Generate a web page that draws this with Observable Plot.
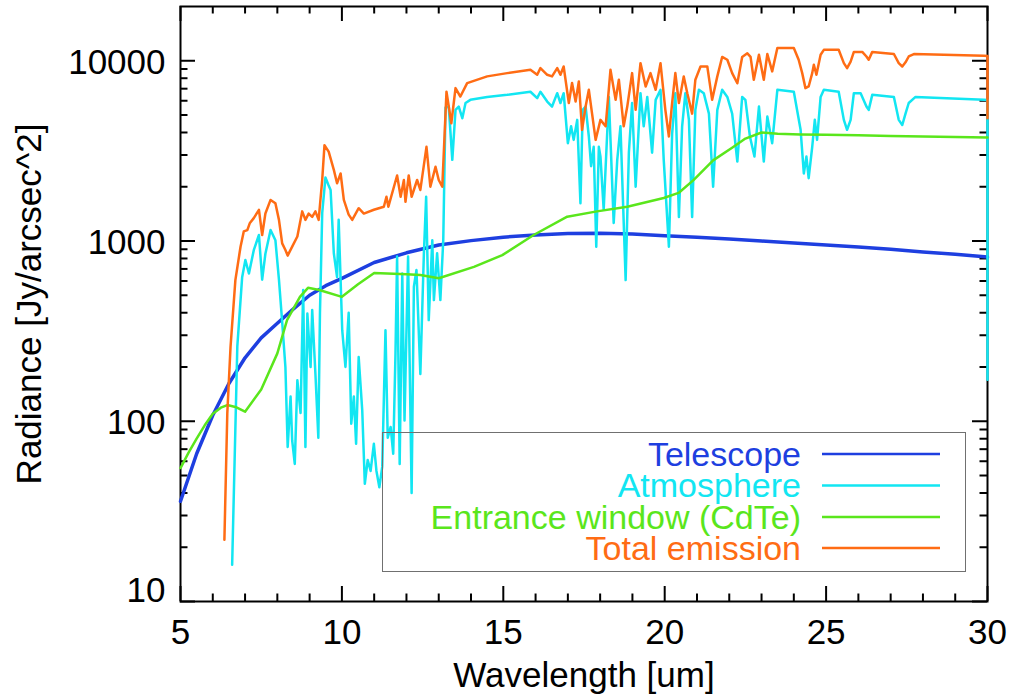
<!DOCTYPE html>
<html>
<head>
<meta charset="utf-8">
<script src="https://cdn.jsdelivr.net/npm/d3@7"></script>
<script src="https://cdn.jsdelivr.net/npm/@observablehq/plot@0.6"></script>
<style>
  body { margin: 0; background: #fff; }
  #chart { width: 1009px; height: 698px; }
</style>
</head>
<body>
<div id="chart"></div>
<script>
// ---------- data (wavelength [um], radiance [Jy/arcsec^2]) ----------
const seriesNames = ["Telescope", "Atmosphere", "Entrance window (CdTe)", "Total emission"];
const seriesColors = ["#1e3fe0", "#12e6f2", "#5ae61c", "#ff6c14"];

const telescope = [[5,36],[5.5,66],[6,108],[6.5,162],[7,225],[7.5,290],[8,350],[8.5,420],[9,500],[9.5,565],[10,620],[11,760],[12,860],[13,950],[14,1005],[15,1050],[16,1080],[17,1100],[18,1105],[19,1095],[20,1070],[21,1050],[22,1025],[23,1000],[24,975],[25,950],[26,925],[27,900],[28,870],[29,845],[30,815]];

const atmosphere = [[6.60,16],[6.76,260],[6.91,630],[7.01,785],[7.12,660],[7.27,890],[7.43,1080],[7.53,610],[7.63,850],[7.79,1150],[7.94,1010],[8.05,610],[8.15,355],[8.25,200],[8.32,72],[8.41,137],[8.46,78],[8.54,58],[8.62,169],[8.72,111],[8.80,534],[8.87,72],[8.93,396],[9.03,200],[9.08,414],[9.18,183],[9.27,81],[9.32,396],[9.39,1430],[9.49,2250],[9.58,2050],[9.65,1920],[9.75,855],[9.85,630],[9.90,1310],[10.01,320],[10.11,200],[10.21,400],[10.29,97],[10.37,137],[10.44,75],[10.52,227],[10.63,115],[10.71,45],[10.80,61],[10.89,53],[10.99,75],[11.07,53],[11.16,43],[11.25,56],[11.35,320],[11.42,81],[11.51,93],[11.59,66],[11.66,238],[11.71,820],[11.79,58],[11.87,660],[11.94,101],[12.05,820],[12.16,40],[12.23,557],[12.31,690],[12.43,183],[12.54,855],[12.61,1760],[12.69,364],[12.80,1010],[12.85,470],[12.95,855],[13.05,470],[13.14,1010],[13.21,5500],[13.31,5570],[13.42,2820],[13.52,5340],[13.62,5570],[13.73,4800],[13.83,5830],[13.98,6070],[14.50,6300],[15.12,6470],[15.84,6730],[16.05,6200],[16.15,6730],[16.36,5940],[16.51,5570],[16.67,6610],[16.77,5830],[16.87,6610],[17.00,3490],[17.10,4330],[17.18,3640],[17.29,4700],[17.39,1620],[17.46,5340],[17.55,5570],[17.65,3800],[17.72,2600],[17.80,3330],[17.88,930],[17.96,3330],[18.01,2940],[18.11,1490],[18.27,6300],[18.42,1260],[18.53,2820],[18.63,4330],[18.79,607],[18.89,3090],[18.99,5830],[19.10,2000],[19.25,6610],[19.35,4330],[19.46,6300],[19.61,3090],[19.72,6070],[19.87,6900],[19.97,2820],[20.13,930],[20.23,3930],[20.33,6610],[20.44,1360],[20.54,4330],[20.64,6610],[20.75,4700],[20.85,1360],[20.95,5340],[21.06,6900],[21.21,6610],[21.37,5090],[21.50,2000],[21.63,5340],[21.78,6900],[21.94,6300],[22.09,5090],[22.25,2760],[22.40,6300],[22.50,6070],[22.64,3800],[22.78,2940],[22.92,5570],[23.07,2760],[23.18,4900],[23.33,3490],[23.49,6900],[24.00,6730],[24.21,4140],[24.31,2370],[24.39,2940],[24.46,2230],[24.57,3330],[24.65,4700],[24.72,3640],[24.83,6300],[24.93,6900],[25.39,6730],[25.55,4700],[25.65,4140],[25.76,4700],[25.86,6610],[26.07,6610],[26.25,5570],[26.32,5340],[26.43,6470],[27.10,6300],[27.25,4700],[27.36,4400],[27.46,5090],[27.56,5830],[27.77,6300],[29.89,6070],[30,6050],[30,170]];

const entranceWindow = [[5,55],[5.25,67],[5.5,80],[5.75,95],[6,110],[6.25,119],[6.45,123],[6.7,120],[7.0,113],[7.5,150],[8.0,238],[8.3,364],[8.7,490],[8.95,550],[9.3,535],[10,490],[10.5,575],[11,665],[12,655],[12.43,647],[13,621],[14.09,719],[14.97,835],[15.94,1080],[16.98,1365],[17.9,1460],[18.84,1550],[19.97,1733],[20.43,1848],[20.9,2184],[21.5,2800],[22.1,3300],[22.5,3700],[23,4000],[23.5,3940],[24.2,3900],[25,3880],[26,3860],[27,3830],[28,3800],[29,3780],[30,3750]];

const totalEmission = [[6.36,22],[6.45,111],[6.55,259],[6.70,607],[6.86,930],[6.96,1130],[7.07,1150],[7.15,1260],[7.27,1340],[7.43,1490],[7.53,1080],[7.63,1420],[7.79,1690],[7.94,1620],[8.05,1310],[8.15,970],[8.25,891],[8.32,830],[8.46,930],[8.62,1060],[8.77,1460],[8.87,1310],[8.97,1420],[9.08,1360],[9.18,1460],[9.28,1310],[9.39,2180],[9.46,3400],[9.59,3130],[9.75,2480],[9.85,2090],[9.96,2370],[10.06,1690],[10.21,1400],[10.32,1310],[10.52,1520],[10.68,1420],[10.99,1490],[11.30,1550],[11.38,1760],[11.44,1550],[11.71,2310],[11.82,1760],[11.92,2180],[11.97,1650],[12.07,2310],[12.16,1760],[12.33,2180],[12.43,1920],[12.62,3330],[12.74,2000],[12.90,2580],[13.00,2180],[13.11,2000],[13.24,6740],[13.39,4500],[13.52,7050],[13.67,6330],[13.88,7520],[14.50,8190],[15.12,8540],[15.84,8910],[16.05,8360],[16.15,9100],[16.36,8360],[16.51,8190],[16.67,9100],[16.77,8360],[16.87,9290],[17.03,5830],[17.13,7520],[17.24,5940],[17.34,7670],[17.44,4140],[17.55,5570],[17.65,6900],[17.75,5090],[17.86,3640],[18.01,4700],[18.17,4330],[18.32,8910],[18.48,6070],[18.58,7850],[18.73,4330],[18.84,5570],[18.99,8540],[19.10,5340],[19.25,9700],[19.41,7200],[19.56,8540],[19.72,6900],[19.87,9700],[20.02,5340],[20.13,3800],[20.23,5830],[20.33,8540],[20.44,5830],[20.59,8190],[20.70,6610],[20.85,5090],[20.95,7850],[21.11,9290],[21.32,9290],[21.47,6070],[21.63,8190],[21.78,10500],[21.94,10130],[22.09,8540],[22.25,7500],[22.40,10500],[22.56,11000],[22.66,10500],[22.76,7850],[22.92,10800],[23.07,7850],[23.18,10900],[23.33,8730],[23.49,11760],[24.00,11760],[24.15,10130],[24.26,8540],[24.36,7050],[24.46,7200],[24.57,8540],[24.62,9500],[24.70,8360],[24.83,10800],[24.93,11500],[25.39,11500],[25.55,9700],[25.65,9100],[25.76,9900],[25.86,11200],[26.12,11200],[26.25,10560],[26.32,10130],[26.43,11200],[27.10,10900],[27.25,9700],[27.36,9290],[27.46,9800],[27.56,10560],[27.72,10900],[29.89,10660],[30,10620],[30,4800]];

// ---------- ticks & labels ----------
const xMajor = [5, 10, 15, 20, 25, 30];
const xMinor = [6,7,8,9,11,12,13,14,16,17,18,19,21,22,23,24,26,27,28,29];
const yMajor = [10, 100, 1000, 10000];
const yMinor = [20,30,40,50,60,70,80,90,200,300,400,500,600,700,800,900,2000,3000,4000,5000,6000,7000,8000,9000];
const xTitle = "Wavelength [um]";
const yTitle = "Radiance [Jy/arcsec^2]";

// ---------- layout ----------
const W = 1009, H = 698, mL = 180, mR = 22, mT = 6, mB = 97;
const innerW = W - mL - mR, innerH = H - mT - mB;
const majorLen = 15, minorLen = 7.5;
const FONT = "'Liberation Sans', Arial, Helvetica, sans-serif";
const FS = 35;
const LFS = 34;

const rows = (arr) => arr.map(([w, r]) => ({w, r}));
const tick = {stroke: "black", strokeWidth: 2};

const plot = Plot.plot({
  width: W, height: H,
  marginLeft: mL, marginRight: mR, marginTop: mT, marginBottom: mB,
  style: {fontFamily: FONT, background: "white", color: "black"},
  x: {domain: [5, 30], axis: null},
  y: {type: "log", domain: [10, 20000], axis: null},
  marks: [
    Plot.frame({stroke: "black", strokeWidth: 2}),
    // inward ticks on all four sides
    Plot.tickX(xMajor, {x: d => d, insetTop: innerH - majorLen, ...tick}),
    Plot.tickX(xMajor, {x: d => d, insetBottom: innerH - majorLen, ...tick}),
    Plot.tickX(xMinor, {x: d => d, insetTop: innerH - minorLen, ...tick}),
    Plot.tickX(xMinor, {x: d => d, insetBottom: innerH - minorLen, ...tick}),
    Plot.tickY(yMajor, {y: d => d, insetRight: innerW - majorLen, ...tick}),
    Plot.tickY(yMajor, {y: d => d, insetLeft: innerW - majorLen, ...tick}),
    Plot.tickY(yMinor, {y: d => d, insetRight: innerW - minorLen, ...tick}),
    Plot.tickY(yMinor, {y: d => d, insetLeft: innerW - minorLen, ...tick}),
    // series
    Plot.line(rows(telescope), {x: "w", y: "r", stroke: seriesColors[0], strokeWidth: 3.5}),
    Plot.line(rows(atmosphere), {x: "w", y: "r", stroke: seriesColors[1], strokeWidth: 2.5}),
    Plot.line(rows(entranceWindow), {x: "w", y: "r", stroke: seriesColors[2], strokeWidth: 2.5}),
    Plot.line(rows(totalEmission), {x: "w", y: "r", stroke: seriesColors[3], strokeWidth: 2.5}),
    // tick labels
    Plot.text(xMajor, {x: d => d, text: d => String(d), frameAnchor: "bottom", dy: 31, lineAnchor: "middle", fontSize: FS, fill: "black"}),
    Plot.text(yMajor.filter(d => d > 10), {y: d => d, text: d => String(d), frameAnchor: "left", textAnchor: "end", dx: -15, dy: 2, lineAnchor: "middle", fontSize: FS, fill: "black"}),
    Plot.text(yMajor.filter(d => d === 10), {y: d => d, text: d => String(d), frameAnchor: "left", textAnchor: "end", dx: -15, dy: -11, lineAnchor: "middle", fontSize: FS, fill: "black"}),
    // axis titles
    Plot.text([xTitle], {text: d => d, frameAnchor: "bottom", dy: 74, textAnchor: "middle", lineAnchor: "middle", fontSize: FS, fill: "black"}),
    Plot.text([yTitle], {text: d => d, frameAnchor: "left", dx: -151, dy: 0, rotate: -90, textAnchor: "middle", lineAnchor: "middle", fontSize: FS, fill: "black"})
  ]
});

// ---------- legend box inside the plot ----------
const svg = d3.select(plot);
const lg = svg.append("g").attr("font-family", FONT).attr("font-size", LFS);
lg.append("rect").attr("x", 382.5).attr("y", 432.5).attr("width", 583).attr("height", 139)
  .attr("fill", "none").attr("stroke", "#707070").attr("stroke-width", 1);
const rowY = [454, 485.5, 517, 548];
seriesNames.forEach((name, i) => {
  lg.append("text").attr("x", 801).attr("y", rowY[i]).attr("dy", "0.35em")
    .attr("text-anchor", "end").attr("fill", seriesColors[i]).text(name);
  lg.append("line").attr("x1", 822).attr("x2", 940).attr("y1", rowY[i]).attr("y2", rowY[i])
    .attr("stroke", seriesColors[i]).attr("stroke-width", 2.5);
});

document.getElementById("chart").appendChild(plot);
</script>
</body>
</html>
